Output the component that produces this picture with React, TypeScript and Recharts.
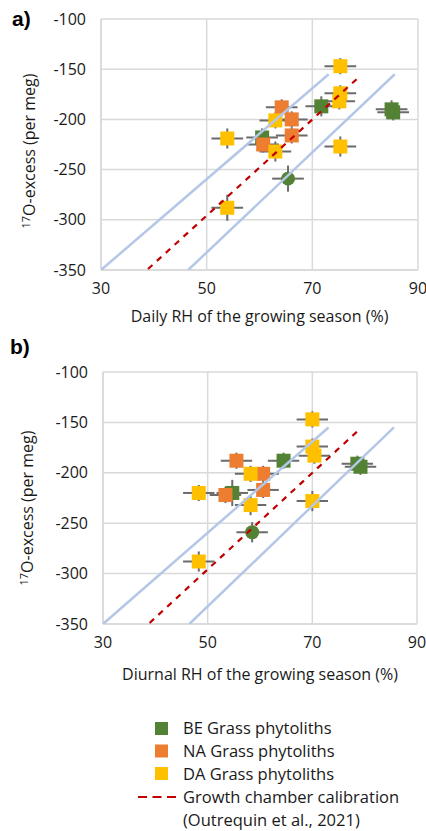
import React from "react";
import {
  ScatterChart,
  Scatter,
  XAxis,
  YAxis,
  CartesianGrid,
  ErrorBar,
  Label,
} from "recharts";

// axis ticks
const xTicks = [30, 50, 70, 90];
const yTicks = [-350, -300, -250, -200, -150, -100];

// a) daily RH
const beDailyX = [71.7, 85.0, 85.3, 60.5];
const beDailyY = [-187, -190, -193, -218];
const beDailyEy = [10, 9, 8, 9];
const beDotDailyX = [65.4];
const beDotDailyY = [-259];
const beDotDailyEy = [13];
const naDailyX = [64.2, 66.1, 66.1, 60.7];
const naDailyY = [-188, -200, -216, -225];
const naDailyEy = [8, 8, 8, 8];
const daDailyX = [75.3, 75.3, 75.1, 75.3, 53.9, 53.9, 63.0, 63.0];
const daDailyY = [-147, -174, -182, -227, -219, -288, -201, -232];
const daDailyEy = [8, 8, 8, 10, 10, 13, 8, 10];

// b) diurnal RH
const beDiurnalX = [64.5, 78.6, 79.2, 54.7];
const beDiurnalY = [-188, -191, -194, -220];
const beDiurnalEy = [8, 8, 8, 13];
const beDotDiurnalX = [58.5];
const beDotDiurnalY = [-259];
const beDotDiurnalEy = [10];
const naDiurnalX = [55.5, 60.6, 60.6, 53.4];
const naDiurnalY = [-188, -201, -217, -222];
const naDiurnalEy = [8, 8, 8, 8];
const daDiurnalX = [70.0, 70.0, 70.4, 70.0, 48.3, 48.3, 58.2, 58.2];
const daDiurnalY = [-147, -174, -183, -228, -220, -288, -201, -232];
const daDiurnalEy = [8, 8, 8, 10, 8, 10, 8, 10];

const xErr = 3;

// growth chamber calibration (Outrequin et al., 2021) and its envelope
const calibX = [38.9, 79.2];
const calibY = [-349, -156];
const upperX = [30, 73.1];
const upperY = [-350, -155];
const lowerX = [46.5, 85.6];
const lowerY = [-350, -155];

const GREEN = "#548235";
const ORANGE = "#ED7D31";
const YELLOW = "#FFC000";
const RED = "#C00000";
const BLUE = "#B4C7E7";
const FONT = "'Open Sans', sans-serif";

const pts = (xs: number[], ys: number[], eys?: number[]) =>
  xs.map((x, i) => ({ x, y: ys[i], ex: xErr, ey: eys ? eys[i] : 0 }));

const Square = (props: any) => {
  const { cx, cy, fill } = props;
  const s = 14;
  return <rect x={cx - s / 2} y={cy - s / 2} width={s} height={s} fill={fill} />;
};

const Dot = (props: any) => {
  const { cx, cy, fill } = props;
  return <circle cx={cx} cy={cy} r={7} fill={fill} />;
};

const NoShape = () => <g />;

interface PanelProps {
  top: number;
  height: number;
  marginTop: number;
  marginRight: number;
  axisWidth: number;
  axisHeight: number;
  titleOffset: number;
  xTitle: string;
  be: any[];
  beDot: any[];
  na: any[];
  da: any[];
}

const Bars = () => (
  <>
    <ErrorBar dataKey="ex" direction="x" width={0} stroke="#6b6b6b" strokeWidth={2} />
    <ErrorBar dataKey="ey" direction="y" width={0} stroke="#6b6b6b" strokeWidth={2} />
  </>
);

const Panel: React.FC<PanelProps> = ({
  top,
  height,
  marginTop,
  marginRight,
  axisWidth,
  axisHeight,
  titleOffset,
  xTitle,
  be,
  beDot,
  na,
  da,
}) => {
  const tick = { fill: "#1a1a1a", fontSize: 16, fontFamily: FONT };
  return (
    <div style={{ position: "absolute", left: 0, top }}>
      <ScatterChart
        width={426}
        height={height}
        margin={{ top: marginTop, right: marginRight, bottom: 0, left: 0 }}
      >
        <CartesianGrid stroke="#d9d9d9" strokeWidth={1.5} />
        <XAxis
          type="number"
          dataKey="x"
          domain={[30, 90]}
          ticks={xTicks}
          allowDataOverflow
          height={axisHeight}
          tick={tick}
          tickLine={false}
          tickSize={6}
          tickMargin={7}
          axisLine={{ stroke: "#d9d9d9", strokeWidth: 1.5 }}
        >
          <Label
            value={xTitle}
            position="insideBottom"
            offset={titleOffset}
            style={{ fill: "#1a1a1a", fontSize: 16, fontFamily: FONT }}
          />
        </XAxis>
        <YAxis
          type="number"
          dataKey="y"
          domain={[-350, -100]}
          ticks={yTicks}
          allowDataOverflow
          width={axisWidth}
          tick={tick}
          tickLine={false}
          tickSize={6}
          tickMargin={9}
          axisLine={{ stroke: "#d9d9d9", strokeWidth: 1.5 }}
        />
        <Scatter data={be} fill={GREEN} shape={Square} isAnimationActive={false}>
          {Bars()}
        </Scatter>
        <Scatter data={beDot} fill={GREEN} shape={Dot} isAnimationActive={false}>
          {Bars()}
        </Scatter>
        <Scatter data={na} fill={ORANGE} shape={Square} isAnimationActive={false}>
          {Bars()}
        </Scatter>
        <Scatter data={da} fill={YELLOW} shape={Square} isAnimationActive={false}>
          {Bars()}
        </Scatter>
        <Scatter
          data={pts(upperX, upperY)}
          line={{ stroke: BLUE, strokeWidth: 2.5 }}
          shape={NoShape}
          isAnimationActive={false}
        />
        <Scatter
          data={pts(lowerX, lowerY)}
          line={{ stroke: BLUE, strokeWidth: 2.5 }}
          shape={NoShape}
          isAnimationActive={false}
        />
        <Scatter
          data={pts(calibX, calibY)}
          line={{ stroke: RED, strokeWidth: 2.2, strokeDasharray: "6 6" }}
          shape={NoShape}
          isAnimationActive={false}
        />
      </ScatterChart>
    </div>
  );
};

const YTitle = ({ x, y }: { x: number; y: number }) => (
  <text
    x={x}
    y={y}
    transform={`rotate(-90 ${x} ${y})`}
    textAnchor="middle"
    fontSize={16}
    fontFamily={FONT}
    fill="#1a1a1a"
  >
    <tspan fontSize={11} dy={-5}>
      17
    </tspan>
    <tspan dy={5}>O-excess (per meg)</tspan>
  </text>
);

const legendItems = [
  { label: "BE Grass phytoliths", color: GREEN },
  { label: "NA Grass phytoliths", color: ORANGE },
  { label: "DA Grass phytoliths", color: YELLOW },
];

export default function App() {
  return (
    <div
      style={{
        position: "absolute",
        left: 0,
        top: 0,
        width: 426,
        height: 831,
        background: "#fff",
      }}
    >
      <Panel
        top={0}
        height={330}
        marginTop={19}
        marginRight={8}
        axisWidth={101}
        axisHeight={60}
        titleOffset={8}
        xTitle="Daily RH of the growing season (%)"
        be={pts(beDailyX, beDailyY, beDailyEy)}
        beDot={pts(beDotDailyX, beDotDailyY, beDotDailyEy)}
        na={pts(naDailyX, naDailyY, naDailyEy)}
        da={pts(daDailyX, daDailyY, daDailyEy)}
      />
      <Panel
        top={330}
        height={370}
        marginTop={42}
        marginRight={9}
        axisWidth={103}
        axisHeight={76}
        titleOffset={20}
        xTitle="Diurnal RH of the growing season (%)"
        be={pts(beDiurnalX, beDiurnalY, beDiurnalEy)}
        beDot={pts(beDotDiurnalX, beDotDiurnalY, beDotDiurnalEy)}
        na={pts(naDiurnalX, naDiurnalY, naDiurnalEy)}
        da={pts(daDiurnalX, daDiurnalY, daDiurnalEy)}
      />
      <svg
        width={426}
        height={831}
        style={{ position: "absolute", left: 0, top: 0, pointerEvents: "none" }}
      >
        <text x={12} y={26} fontSize={21} fontWeight="bold" fontFamily="'Liberation Sans', Arial" fill="#000">
          a)
        </text>
        <text x={10} y={354} fontSize={21} fontWeight="bold" fontFamily="'Liberation Sans', Arial" fill="#000">
          b)
        </text>
        <YTitle x={35} y={151} />
        <YTitle x={33} y={508} />
        {legendItems.map((d, i) => (
          <g key={d.label}>
            <rect x={155} y={722 + i * 22.5} width={13} height={13} fill={d.color} />
            <text x={183} y={734 + i * 23} fontSize={16.5} fontFamily={FONT} fill="#1a1a1a">
              {d.label}
            </text>
          </g>
        ))}
        <line x1={138} y1={797} x2={177} y2={797} stroke={RED} strokeWidth={2} strokeDasharray="9 5.5" />
        <text x={183} y={803} fontSize={16.5} fontFamily={FONT} fill="#1a1a1a">
          Growth chamber calibration
        </text>
        <text x={183} y={826} fontSize={16.5} fontFamily={FONT} fill="#1a1a1a">
          (Outrequin et al., 2021)
        </text>
      </svg>
    </div>
  );
}
